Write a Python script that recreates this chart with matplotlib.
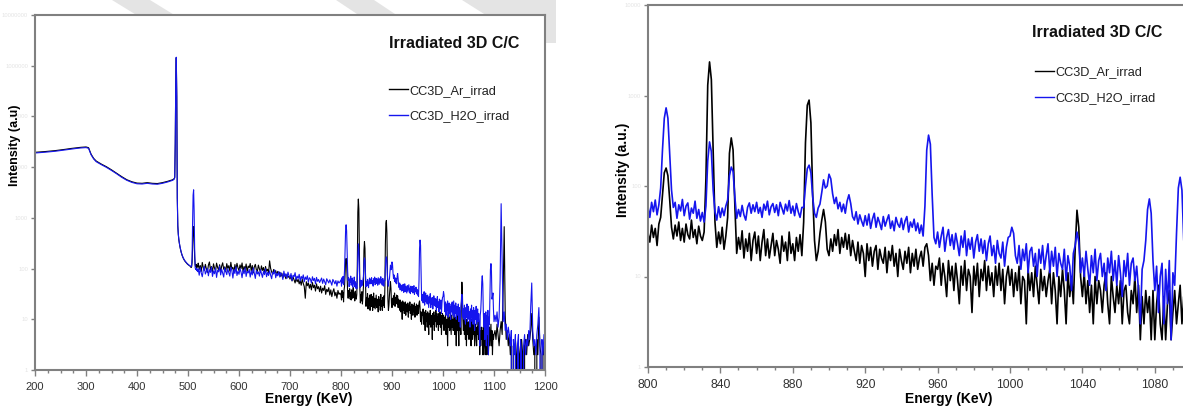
"""Gamma spectra of irradiated 3D C/C samples: full range and 800-1100 keV zoom."""

import matplotlib

matplotlib.use("Agg")
import matplotlib.pyplot as plt
import numpy as np
from matplotlib.patches import Polygon
from matplotlib.ticker import FixedLocator, FuncFormatter, MultipleLocator, NullLocator

plt.rcParams["font.family"] = ["Liberation Sans", "DejaVu Sans"]

TITLE = "Irradiated 3D C/C"
LABELS = ["CC3D_Ar_irrad", "CC3D_H2O_irrad"]
COLORS = ["#000000", "#1515ee"]

# --- smooth Compton continuum, 200-470 keV (counts) -------------------------
energy_cont = [200, 210, 220, 230, 240, 250, 260, 270, 280, 290, 300, 305, 310, 315,
               320, 330, 340, 350, 360, 370, 380, 390, 400, 410, 420, 430, 440, 450,
               460, 470]
ar_cont = [19600, 19900, 20300, 20700, 21200, 21800, 22500, 23300, 24000, 24600, 25000,
           24200, 18000, 14900, 13200, 11500, 10200, 8850, 7600, 6500, 5650, 5150, 4850,
           4800, 4950, 4800, 4750, 4950, 5250, 5650]
h2o_cont = [19000, 19300, 19700, 20100, 20600, 21200, 21900, 22600, 23300, 23900, 24300,
            23500, 17500, 14500, 12800, 11200, 9900, 8600, 7400, 6300, 5500, 5000, 4700,
            4650, 4800, 4650, 4600, 4800, 5100, 5500]

# --- 471-519 keV, 1 keV channels (477 and 511 keV lines) ---------------------
energy_low_start, energy_low_step = 471, 1
ar_low = [5750, 5850, 5950, 6350, 29000, 490000, 1440000, 245000, 2450, 690,
          470, 370, 315, 275, 245, 222, 203, 188, 176, 166,
          158, 151, 145, 140, 136, 132, 128, 125, 122, 120,
          118, 116, 114, 112, 110, 105, 108, 130, 250, 560,
          670, 420, 170, 118, 110, 121, 104, 115, 108]
h2o_low = [5600, 5700, 5800, 6200, 30000, 500000, 1470000, 250000, 2500, 700,
           480, 380, 320, 280, 250, 225, 205, 190, 178, 168,
           160, 153, 147, 142, 138, 134, 130, 127, 124, 122,
           119, 117, 115, 113, 111, 109, 112, 160, 800, 2800,
           3570, 1400, 260, 105, 96, 102, 91, 99, 87]

# --- 520-798 keV, 2 keV channels ----------------------------------------------
energy_mid_start, energy_mid_step = 520, 2
ar_mid = [128, 96, 115, 88, 132, 104, 92, 121, 99, 84,
          117, 135, 95, 110, 86, 124, 102, 90, 128, 106,
          93, 119, 85, 112, 130, 97, 108, 87, 125, 101,
          114, 89, 133, 98, 106, 83, 120, 94, 127, 103,
          91, 118, 100, 129, 87, 110, 96, 123, 85, 112,
          104, 126, 90, 115, 82, 108, 121, 95, 88, 117,
          99, 84, 113, 92, 105, 80, 110, 89, 97, 83,
          142, 101, 86, 78, 96, 82, 91, 74, 88, 79,
          85, 70, 81, 66, 78, 72, 63, 76, 67, 71,
          62, 73, 57, 68, 60, 52, 66, 55, 61, 50,
          58, 47, 62, 51, 44, 26, 55, 46, 52, 41,
          49, 38, 53, 42, 47, 36, 50, 40, 44, 35,
          45, 33, 41, 37, 46, 31, 39, 35, 42, 30,
          38, 28, 35, 40, 29, 34, 26, 37, 31, 33]
h2o_mid = [98, 74, 105, 82, 69, 93, 110, 78, 88, 101,
           72, 95, 84, 108, 70, 90, 79, 102, 67, 92,
           86, 112, 75, 97, 81, 68, 104, 88, 76, 99,
           83, 71, 106, 91, 65, 96, 80, 109, 73, 89,
           77, 100, 85, 66, 94, 79, 104, 70, 88, 82,
           96, 68, 90, 75, 103, 81, 64, 92, 78, 86,
           71, 95, 80, 67, 88, 76, 99, 69, 84, 73,
           90, 74, 63, 85, 78, 94, 66, 81, 72, 87,
           68, 83, 76, 61, 89, 70, 79, 64, 85, 72,
           66, 80, 58, 74, 69, 83, 60, 71, 64, 77,
           57, 70, 63, 75, 55, 68, 61, 72, 54, 66,
           62, 52, 69, 58, 64, 50, 67, 56, 61, 53,
           59, 65, 51, 62, 55, 48, 63, 57, 52, 60,
           54, 47, 61, 56, 50, 58, 45, 57, 52, 55]

# --- 800-1100 keV, 1 keV channels (zoomed panel) ------------------------------
energy_high_start, energy_high_step = 800, 1
ar_high = [30, 24, 37, 27, 34, 22, 38, 45, 80, 140,
           158, 130, 70, 35, 26, 37, 28, 40, 25, 34,
           24, 38, 29, 26, 42, 27, 33, 23, 36, 28,
           25, 31, 120, 1300, 2350, 1500, 250, 40, 21, 31,
           23, 35, 20, 28, 45, 230, 340, 250, 60, 18,
           27, 20, 32, 16, 26, 19, 30, 15, 25, 31,
           18, 28, 15, 24, 33, 17, 26, 16, 22, 30,
           17, 25, 20, 14, 28, 19, 24, 15, 31, 18,
           23, 15, 27, 19, 29, 17, 40, 300, 780, 890,
           500, 80, 25, 15, 19, 30, 42, 55, 40, 20,
           17, 26, 19, 29, 22, 33, 18, 27, 21, 30,
           20, 29, 17, 25, 19, 15, 24, 14, 22, 18,
           10, 23, 15, 21, 13, 19, 22, 12, 20, 16,
           14, 21, 11, 19, 15, 22, 13, 18, 10, 20,
           15, 12, 19, 14, 21, 11, 18, 13, 20, 12,
           16, 19, 13, 21, 23, 17, 9, 14, 8, 13,
           12, 16, 8, 14, 10, 6, 15, 9, 13, 7,
           14, 9, 5, 13, 8, 15, 7, 12, 10, 4,
           13, 8, 14, 6, 12, 9, 15, 7, 13, 8,
           11, 6, 13, 8, 14, 7, 12, 5, 10, 13,
           8, 12, 6, 11, 7, 13, 5, 10, 9, 3,
           12, 7, 11, 6, 13, 8, 5, 12, 7, 10,
           6, 9, 12, 5, 11, 7, 3, 10, 6, 12,
           7, 3, 11, 6, 10, 5, 20, 54, 35, 10,
           6, 11, 5, 9, 4, 8, 3, 10, 5, 9,
           7, 4, 8, 11, 5, 3, 10, 6, 4, 8,
           5, 9, 3, 7, 8, 4, 3, 7, 5, 10,
           4, 8, 2, 6, 3, 7, 4, 6, 2, 7,
           2, 5, 8, 3, 2, 6, 2, 5, 7, 2,
           4, 7, 3, 5, 8, 3, 6, 2, 5, 4,
           5]
h2o_high = [60, 45, 66, 52, 70, 48, 62, 95, 250, 560,
            730, 560, 230, 90, 58, 66, 44, 62, 53, 71,
            47, 60, 65, 43, 57, 50, 68, 44, 55, 41,
            51, 40, 60, 190, 307, 240, 90, 52, 42, 59,
            45, 57, 47, 60, 70, 130, 162, 145, 75, 44,
            55, 46, 61, 48, 42, 58, 65, 50, 62, 52,
            66, 50, 58, 45, 63, 54, 68, 48, 59, 64,
            51, 62, 47, 66, 57, 49, 63, 53, 69, 50,
            60, 47, 64, 52, 45, 58, 58, 100, 155, 170,
            140, 75, 50, 45, 57, 63, 85, 117, 95, 100,
            135, 120, 82, 64, 75, 56, 66, 52, 63, 50,
            68, 80, 64, 46, 42, 52, 38, 48, 41, 36,
            47, 37, 49, 34, 43, 50, 35, 45, 39, 33,
            46, 36, 42, 48, 34, 41, 32, 45, 38, 35,
            44, 33, 41, 46, 31, 40, 35, 43, 32, 39,
            30, 37, 28, 60, 250, 365, 290, 80, 27, 23,
            31, 21, 28, 35, 19, 27, 33, 22, 29, 20,
            30, 23, 17, 28, 21, 32, 17, 26, 20, 27,
            16, 24, 29, 19, 26, 18, 25, 15, 23, 28,
            17, 22, 14, 25, 18, 16, 24, 13, 21, 27,
            28, 35, 30, 17, 14, 22, 12, 20, 15, 23,
            11, 19, 21, 13, 18, 10, 20, 14, 22, 12,
            17, 23, 11, 19, 13, 21, 10, 18, 14, 12,
            20, 9, 17, 13, 7, 18, 22, 31, 24, 11,
            16, 10, 19, 12, 8, 17, 11, 20, 9, 15,
            18, 10, 14, 7, 16, 11, 19, 9, 15, 8,
            17, 11, 6, 15, 10, 18, 8, 14, 16, 9,
            13, 7, 3, 12, 15, 25, 55, 72, 50, 15,
            7, 13, 4, 10, 14, 3, 12, 5, 15, 2,
            11, 8, 30, 95, 125, 90, 25, 28, 33, 15,
            9]

# --- 1102-1200 keV, 2 keV channels (0 = empty channel) ------------------------
energy_tail_start, energy_tail_step = 1102, 2
ar_tail = [6, 4, 8, 5, 3, 6, 9, 5, 40, 670,
           12, 4, 6, 3, 5, 2, 4, 0, 3, 0,
           4, 2, 0, 3, 2, 0, 4, 2, 0, 3,
           4, 2, 5, 3, 4, 6, 13, 4, 2, 3,
           0, 4, 2, 11, 3, 2, 0, 3, 2, 4]
h2o_tail = [12, 9, 14, 7, 11, 60, 1900, 120, 9, 14,
            6, 8, 4, 7, 5, 3, 6, 0, 4, 2,
            5, 0, 3, 5, 0, 4, 2, 0, 3, 5,
            2, 4, 3, 6, 4, 18, 52, 6, 3, 4,
            2, 5, 8, 17, 3, 0, 4, 2, 5, 3]

# light grey diagonal watermark bands (pixel coords, origin top-left)
WATERMARK = [
    [(112, 0), (150, 0), (176, 16), (138, 16)],
    [(336, 0), (374, 0), (398, 16), (360, 16)],
    [(462, 0), (556, 0), (556, 43), (530, 43)],
]


def channels(start, step, counts):
    return start + step * np.arange(len(counts))


energy = np.concatenate([
    energy_cont,
    channels(energy_low_start, energy_low_step, ar_low),
    channels(energy_mid_start, energy_mid_step, ar_mid),
    channels(energy_high_start, energy_high_step, ar_high),
    channels(energy_tail_start, energy_tail_step, ar_tail),
])
ar = np.concatenate([ar_cont, ar_low, ar_mid, ar_high, ar_tail]).astype(float)
h2o = np.concatenate([h2o_cont, h2o_low, h2o_mid, h2o_high, h2o_tail]).astype(float)

W, H = 1183, 409


def px_axes(fig, left, top, right, bottom):
    return fig.add_axes([left / W, 1 - bottom / H, (right - left) / W, (bottom - top) / H])


def style_panel(ax, xlim, major, minor, ymax, tick_size, lw):
    for series, color in zip((ar, h2o), COLORS):
        ax.plot(energy, series, color=color, lw=lw)
    ax.set_yscale("log", nonpositive="clip")
    ax.set_xlim(*xlim)
    ax.set_ylim(1, ymax)
    ax.xaxis.set_major_locator(MultipleLocator(major))
    ax.xaxis.set_minor_locator(MultipleLocator(minor))
    ax.yaxis.set_major_locator(FixedLocator([10.0 ** k for k in range(int(np.log10(ymax)) + 1)]))
    ax.yaxis.set_minor_locator(NullLocator())
    ax.yaxis.set_major_formatter(FuncFormatter(lambda v, _: f"{v:.0f}"))
    for side in ax.spines.values():
        side.set_color("#808080")
        side.set_linewidth(1.5)
    ax.tick_params(axis="both", which="both", direction="out", color="#808080", width=1)
    ax.tick_params(axis="x", which="major", length=4, pad=5, labelsize=tick_size, labelcolor="#333333")
    ax.tick_params(axis="x", which="minor", length=2.5)
    ax.tick_params(axis="y", which="major", length=3, pad=2, labelsize=4.2, labelcolor="#e4e4e4")


def annotate(ax, x_title, y_title, x_legend, y_legend, spacing):
    ax.text(x_title, y_title, TITLE, transform=ax.transAxes, fontsize=11.5, fontweight="bold",
            va="center", ha="left", color="#111111")
    handles = [plt.Line2D([], [], color=c, lw=1) for c in COLORS]
    ax.legend(handles, LABELS, loc="upper left", bbox_to_anchor=(x_legend, y_legend),
              frameon=False, fontsize=9.2, handlelength=1.5, handletextpad=0.1,
              labelspacing=spacing, borderaxespad=0, borderpad=0, labelcolor="#222222")


def main():
    fig = plt.figure(figsize=(W / 100, H / 100), dpi=100)

    # watermark sits behind the (white) plot areas
    for band in WATERMARK:
        fig.patches.append(Polygon([(x / W, 1 - y / H) for x, y in band], closed=True,
                                   transform=fig.transFigure, facecolor="#e4e4e4",
                                   edgecolor="none", zorder=-1))

    ax1 = px_axes(fig, 35, 15, 545, 370)
    style_panel(ax1, (200, 1200), 100, 25, 1e7, 8, 0.8)
    ax1.set_xlabel("Energy (KeV)", fontsize=10, fontweight="bold")
    ax1.xaxis.set_label_coords(0.537, -0.062)
    ax1.set_ylabel("Intensity (a.u)", fontsize=9, fontweight="bold")
    ax1.yaxis.set_label_coords(-0.028, 0.634)
    annotate(ax1, 0.694, 0.921, 0.694, 0.804, 1.05)

    ax2 = px_axes(fig, 648, 5, 1191, 367)
    style_panel(ax2, (800, 1100), 40, 10, 1e4, 8.8, 1.2)
    ax2.set_xlabel("Energy (KeV)", fontsize=10, fontweight="bold")
    ax2.xaxis.set_label_coords(0.553, -0.068)
    ax2.set_ylabel("Intensity (a.u.)", fontsize=10, fontweight="bold")
    ax2.yaxis.set_label_coords(-0.033, 0.544)
    annotate(ax2, 0.707, 0.925, 0.713, 0.831, 1.1)

    fig.savefig("out.png", dpi=100, facecolor="white")
    plt.close(fig)


if __name__ == "__main__":
    main()
